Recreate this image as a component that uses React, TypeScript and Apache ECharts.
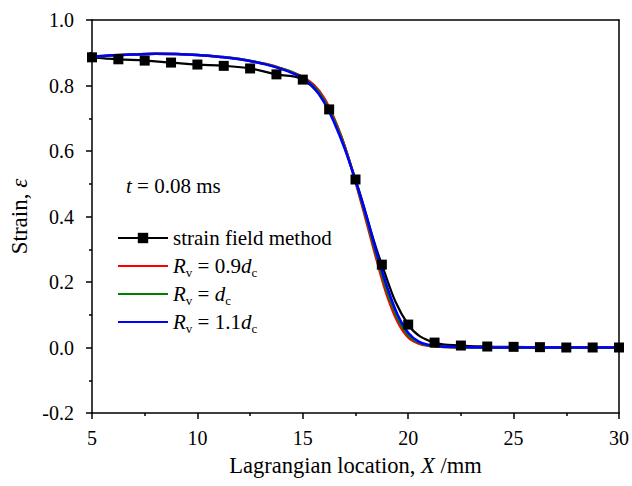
import React, { useEffect, useRef } from "react";
import * as echarts from "echarts";

const markerX = [5, 6.25, 7.5, 8.75, 10, 11.25, 12.5, 13.75, 15, 16.25, 17.5, 18.75, 20, 21.25, 22.5, 23.75, 25, 26.25, 27.5, 28.75, 30];
const strainField = [0.886, 0.88, 0.876, 0.87, 0.864, 0.86, 0.852, 0.834, 0.818, 0.727, 0.513, 0.253, 0.07, 0.015, 0.006, 0.003, 0.002, 0.001, 0, 0, 0];

const curveX = [5, 6, 7, 8, 9, 10, 11, 12, 13, 13.5, 14, 14.5, 15, 15.5, 16, 16.5, 17, 17.5, 18, 18.5, 19, 19.5, 20, 20.5, 21, 21.5, 22, 23, 24, 25, 26, 27, 28, 29, 30];
const rv09 = [0.887, 0.892, 0.895, 0.897, 0.896, 0.893, 0.888, 0.881, 0.869, 0.862, 0.852, 0.841, 0.826, 0.803, 0.763, 0.698, 0.612, 0.506, 0.388, 0.268, 0.158, 0.078, 0.031, 0.012, 0.005, 0.002, 0.001, 0, 0, 0, 0, 0, 0, 0, 0];
const rv10 = [0.887, 0.892, 0.895, 0.897, 0.896, 0.893, 0.888, 0.881, 0.869, 0.861, 0.851, 0.84, 0.824, 0.799, 0.757, 0.692, 0.609, 0.508, 0.397, 0.279, 0.171, 0.089, 0.038, 0.015, 0.006, 0.003, 0.001, 0, 0, 0, 0, 0, 0, 0, 0];
const rv11 = [0.887, 0.892, 0.895, 0.897, 0.896, 0.893, 0.888, 0.88, 0.868, 0.86, 0.85, 0.838, 0.822, 0.795, 0.75, 0.685, 0.605, 0.51, 0.405, 0.29, 0.185, 0.1, 0.045, 0.018, 0.008, 0.004, 0.002, 0.001, 0, 0, 0, 0, 0, 0, 0];

const seriesNames = ["strain field method", "Rv09", "Rv10", "Rv11"];
const legendLabels: Record<string, string> = {
  "strain field method": "{n|strain field method}",
  Rv09: "{i|R}{s|v}{n| = 0.9}{i|d}{s|c}",
  Rv10: "{i|R}{s|v}{n| = }{i|d}{s|c}",
  Rv11: "{i|R}{s|v}{n| = 1.1}{i|d}{s|c}",
};

const FONT = "Liberation Serif";

const pairs = (xs: number[], ys: number[]) => xs.map((x, i) => [x, ys[i]]);

export default function App() {
  const ref = useRef<HTMLDivElement>(null);
  useEffect(() => {
    if (!ref.current) return;
    const chart = echarts.init(ref.current, null, { renderer: "svg" });
    const richBase = {
      n: { fontFamily: FONT, fontSize: 21, color: "#000", lineHeight: 26, verticalAlign: "middle" },
      i: { fontFamily: FONT, fontSize: 21, fontStyle: "italic", color: "#000", lineHeight: 26, verticalAlign: "middle" },
      s: { fontFamily: FONT, fontSize: 13, color: "#000", lineHeight: 26, verticalAlign: "bottom" },
    };
    chart.setOption({
      animation: false,
      backgroundColor: "#fff",
      grid: { left: 92, right: 10, top: 20, bottom: 73 },
      xAxis: [
        {
          type: "value",
          min: 5,
          max: 30,
          interval: 5,
          name: "Lagrangian location, {i|X} /mm",
          nameLocation: "middle",
          nameGap: 41,
          nameTextStyle: {
            fontFamily: FONT,
            fontSize: 22.5,
            color: "#000",
            rich: { i: { fontFamily: FONT, fontSize: 22.5, fontStyle: "italic", color: "#000" } },
          },
          axisLine: { onZero: false, lineStyle: { color: "#000", width: 1.5 } },
          axisTick: { inside: false, length: 6, lineStyle: { color: "#000", width: 1.5 } },
          minorTick: { show: true, splitNumber: 2, length: 3, lineStyle: { color: "#000", width: 1.5 } },
          axisLabel: { fontFamily: FONT, fontSize: 20, color: "#000", margin: 15 },
          splitLine: { show: false },
        },
        {
          type: "value",
          position: "top",
          min: 5,
          max: 30,
          axisLine: { onZero: false, lineStyle: { color: "#000", width: 1.5 } },
          axisTick: { show: false },
          axisLabel: { show: false },
          splitLine: { show: false },
        },
      ],
      yAxis: [
        {
          type: "value",
          min: -0.2,
          max: 1.0,
          interval: 0.2,
          name: "Strain, {i|ε}",
          nameLocation: "middle",
          nameGap: 56,
          nameTextStyle: {
            fontFamily: FONT,
            fontSize: 23,
            color: "#000",
            rich: { i: { fontFamily: FONT, fontSize: 23, fontStyle: "italic", color: "#000" } },
          },
          axisLine: { onZero: false, lineStyle: { color: "#000", width: 1.5 } },
          axisTick: { inside: false, length: 6, lineStyle: { color: "#000", width: 1.5 } },
          minorTick: { show: true, splitNumber: 2, length: 3, lineStyle: { color: "#000", width: 1.5 } },
          axisLabel: {
            fontFamily: FONT,
            fontSize: 20,
            color: "#000",
            margin: 18,
            formatter: (v: number) => v.toFixed(1),
          },
          splitLine: { show: false },
        },
        {
          type: "value",
          position: "right",
          min: -0.2,
          max: 1.0,
          axisLine: { onZero: false, lineStyle: { color: "#000", width: 1.5 } },
          axisTick: { show: false },
          axisLabel: { show: false },
          splitLine: { show: false },
        },
      ],
      legend: {
        orient: "vertical",
        left: 117,
        top: 225,
        padding: 0,
        itemWidth: 50,
        itemHeight: 13,
        itemGap: 2,
        data: [
          { name: seriesNames[0] },
          { name: seriesNames[1], itemStyle: { opacity: 0 } },
          { name: seriesNames[2], itemStyle: { opacity: 0 } },
          { name: seriesNames[3], itemStyle: { opacity: 0 } },
        ],
        formatter: (name: string) => legendLabels[name],
        textStyle: { fontFamily: FONT, fontSize: 21, color: "#000", lineHeight: 26, rich: richBase },
      },
      graphic: [
        {
          type: "text",
          left: 126,
          top: 175,
          style: {
            text: "{i|t}{n| = 0.08 ms}",
            rich: richBase,
          },
        },
      ],
      series: [
        {
          name: seriesNames[0],
          type: "line",
          data: pairs(markerX, strainField),
          smooth: 0.4,
          symbol: "rect",
          symbolSize: 10,
          itemStyle: { color: "#000" },
          lineStyle: { color: "#000", width: 2.2 },
        },
        {
          name: seriesNames[1],
          type: "line",
          data: pairs(curveX, rv09),
          smooth: 0.4,
          symbol: "none",
          itemStyle: { color: "#ff0000" },
          lineStyle: { color: "#ff0000", width: 2.5 },
        },
        {
          name: seriesNames[2],
          type: "line",
          data: pairs(curveX, rv10),
          smooth: 0.4,
          symbol: "none",
          itemStyle: { color: "#008000" },
          lineStyle: { color: "#008000", width: 2.5 },
        },
        {
          name: seriesNames[3],
          type: "line",
          data: pairs(curveX, rv11),
          smooth: 0.4,
          symbol: "none",
          itemStyle: { color: "#0000ff" },
          lineStyle: { color: "#0000ff", width: 2.5 },
        },
      ],
    });
    return () => chart.dispose();
  }, []);
  return <div ref={ref} style={{ position: "absolute", left: 0, top: 0, width: 632, height: 486 }} />;
}
